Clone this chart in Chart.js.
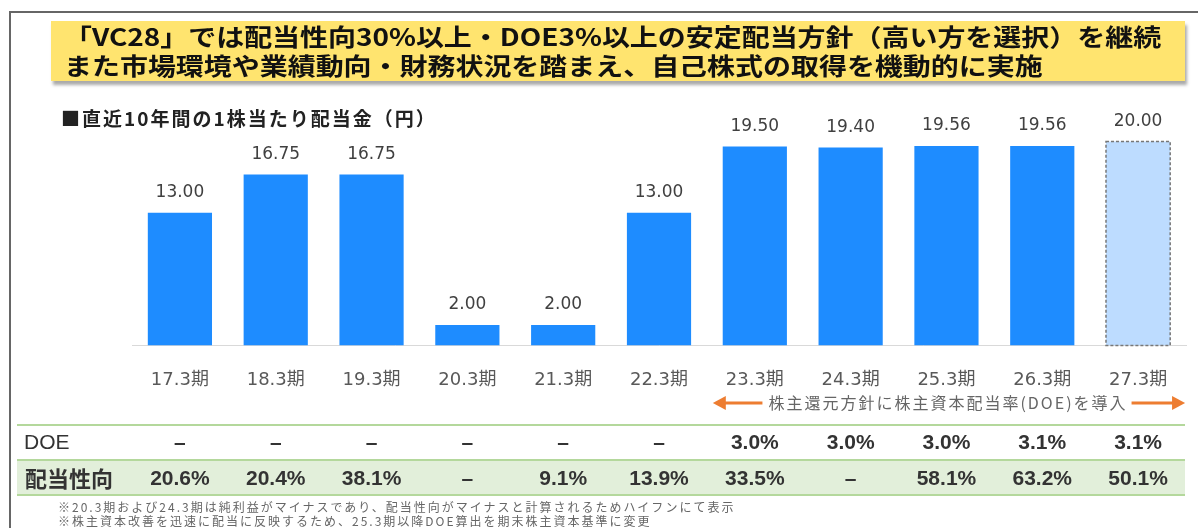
<!DOCTYPE html>
<html>
<head>
<meta charset="utf-8">
<script src="https://cdn.jsdelivr.net/npm/chart.js@4.4.1/dist/chart.umd.min.js"></script>
<style>
  html,body{margin:0;padding:0;background:#fff;}
  #wrap{position:relative;width:1198px;height:528px;overflow:hidden;font-family:"Noto Sans CJK JP","Liberation Sans",sans-serif;}
  #frame{position:absolute;left:9px;top:11px;width:1200px;height:530px;border-left:2px solid #666;border-top:2px solid #666;}
  #head{position:absolute;left:51px;top:21px;width:1134px;height:60px;background:#ffe46f;box-shadow:2px 4px 3px #aaa;}
  #head div{position:absolute;left:13px;top:0px;font-weight:bold;font-size:24px;line-height:29px;color:#111;white-space:nowrap;
        transform:scaleX(1.165);transform-origin:0 0;}
  #sub{position:absolute;left:61px;top:104px;font-size:19px;letter-spacing:2px;font-weight:bold;color:#222;}
  #note{position:absolute;left:58px;top:500px;font-size:12px;letter-spacing:2px;line-height:14px;color:#666;white-space:nowrap;}
  canvas{position:absolute;left:0;top:0;}
</style>
</head>
<body>
<div id="wrap">
  <div id="frame"></div>
  <canvas id="c" width="1198" height="528"></canvas>
  <div id="head"><div>「VC28」では配当性向30%以上・DOE3%以上の安定配当方針（高い方を選択）を継続<br>また市場環境や業績動向・財務状況を踏まえ、自己株式の取得を機動的に実施</div></div>
  <div id="sub">■直近10年間の1株当たり配当金（円）</div>
  <div id="note">※20.3期および24.3期は純利益がマイナスであり、配当性向がマイナスと計算されるためハイフンにて表示<br>※株主資本改善を迅速に配当に反映するため、25.3期以降DOE算出を期末株主資本基準に変更</div>
</div>
<script>
var periods=['17.3期','18.3期','19.3期','20.3期','21.3期','22.3期','23.3期','24.3期','25.3期','26.3期','27.3期'];
var dividends=[13.00,16.75,16.75,2.00,2.00,13.00,19.50,19.40,19.56,19.56,20.00];
var doeRates=['–','–','–','–','–','–','3.0%','3.0%','3.0%','3.1%','3.1%'];
var payoutRatios=['20.6%','20.4%','38.1%','–','9.1%','13.9%','33.5%','–','58.1%','63.2%','50.1%'];
var policyNote='株主還元方針に株主資本配当率(DOE)を導入';

var barColors=dividends.map(function(v,i){return i==dividends.length-1?'#bddcff':'#1e8cff';});

// 値ラベル・予想バーの点線枠
var labelPlugin={
  id:'labels',
  afterDatasetsDraw:function(chart){
    var ctx=chart.ctx;
    var meta=chart.getDatasetMeta(0);
    ctx.save();
    meta.data.forEach(function(bar,i){
      if(i==dividends.length-1){
        ctx.setLineDash([3,2]);
        ctx.strokeStyle='#777';
        ctx.lineWidth=1.5;
        ctx.strokeRect(bar.x-bar.width/2,bar.y,bar.width,bar.base-bar.y);
        ctx.setLineDash([]);
      }
      ctx.fillStyle='#404040';
      ctx.font='17px "DejaVu Sans", sans-serif';
      ctx.textAlign='center';
      ctx.textBaseline='middle';
      ctx.fillText(dividends[i].toFixed(2),bar.x,bar.y-20);
    });
    ctx.restore();
  }
};

// DOE導入の矢印と下の表
var tablePlugin={
  id:'table',
  afterDraw:function(chart){
    var ctx=chart.ctx;
    var x=chart.scales.x;
    ctx.save();
    // arrow row
    var ay=403;
    var x0=x.getPixelForValue(6)-42, x1=x.getPixelForValue(10)+47;
    ctx.font='16px "Noto Sans CJK JP", sans-serif';
    ctx.letterSpacing='2px';
    ctx.textBaseline='middle';
    ctx.textAlign='center';
    var tw=ctx.measureText(policyNote).width;
    var cx=948;
    ctx.fillStyle='#666';
    ctx.fillText(policyNote,cx,ay);
    ctx.letterSpacing='0px';
    ctx.strokeStyle='#ed7d31';
    ctx.fillStyle='#ed7d31';
    ctx.lineWidth=3;
    ctx.beginPath();
    ctx.moveTo(x0+8,ay);ctx.lineTo(cx-tw/2-6,ay);
    ctx.moveTo(cx+tw/2+4,ay);ctx.lineTo(x1-8,ay);
    ctx.stroke();
    [[x0,1],[x1,-1]].forEach(function(a){
      ctx.beginPath();
      ctx.moveTo(a[0],ay);
      ctx.lineTo(a[0]+a[1]*13,ay-7);
      ctx.lineTo(a[0]+a[1]*13,ay+7);
      ctx.closePath();ctx.fill();
    });
    // table
    var L=17,R=1185;
    ctx.fillStyle='#e2efda';
    ctx.fillRect(L,461,R-L,34);
    ctx.strokeStyle='#b4d89c';
    ctx.lineWidth=2;
    [425,460,495].forEach(function(y){
      ctx.beginPath();ctx.moveTo(L,y);ctx.lineTo(R,y);ctx.stroke();
    });
    ctx.fillStyle='#333';
    ctx.textAlign='left';
    ctx.font='21px "Liberation Sans", Arial, sans-serif';
    ctx.fillText('DOE',24,443);
    ctx.font='bold 22px "Noto Sans CJK JP", sans-serif';
    ctx.fillText('配当性向',25,479);
    ctx.textAlign='center';
    ctx.font='bold 21px "Liberation Sans", Arial, sans-serif';
    periods.forEach(function(p,i){
      var px=x.getPixelForValue(i);
      ctx.fillText(doeRates[i],px,443);
      ctx.fillText(payoutRatios[i],px,479);
    });
    ctx.restore();
  }
};

new Chart(document.getElementById('c'),{
  type:'bar',
  data:{
    labels:periods,
    datasets:[{
      data:dividends,
      backgroundColor:barColors,
      borderWidth:0,
      categoryPercentage:1,
      barPercentage:0.67
    }]
  },
  options:{
    responsive:false,
    animation:false,
    events:[],
    layout:{padding:{left:132,right:12,top:121,bottom:113}},
    plugins:{legend:{display:false},tooltip:{enabled:false}},
    scales:{
      x:{
        grid:{display:false,drawTicks:false},
        border:{display:true,color:'#d9d9d9',width:1},
        ticks:{color:'#595959',padding:24,font:{size:18,family:'"DejaVu Sans","Noto Sans CJK JP",sans-serif'}}
      },
      y:{display:false,min:0,max:22}
    }
  },
  plugins:[labelPlugin,tablePlugin]
});
</script>
</body>
</html>
